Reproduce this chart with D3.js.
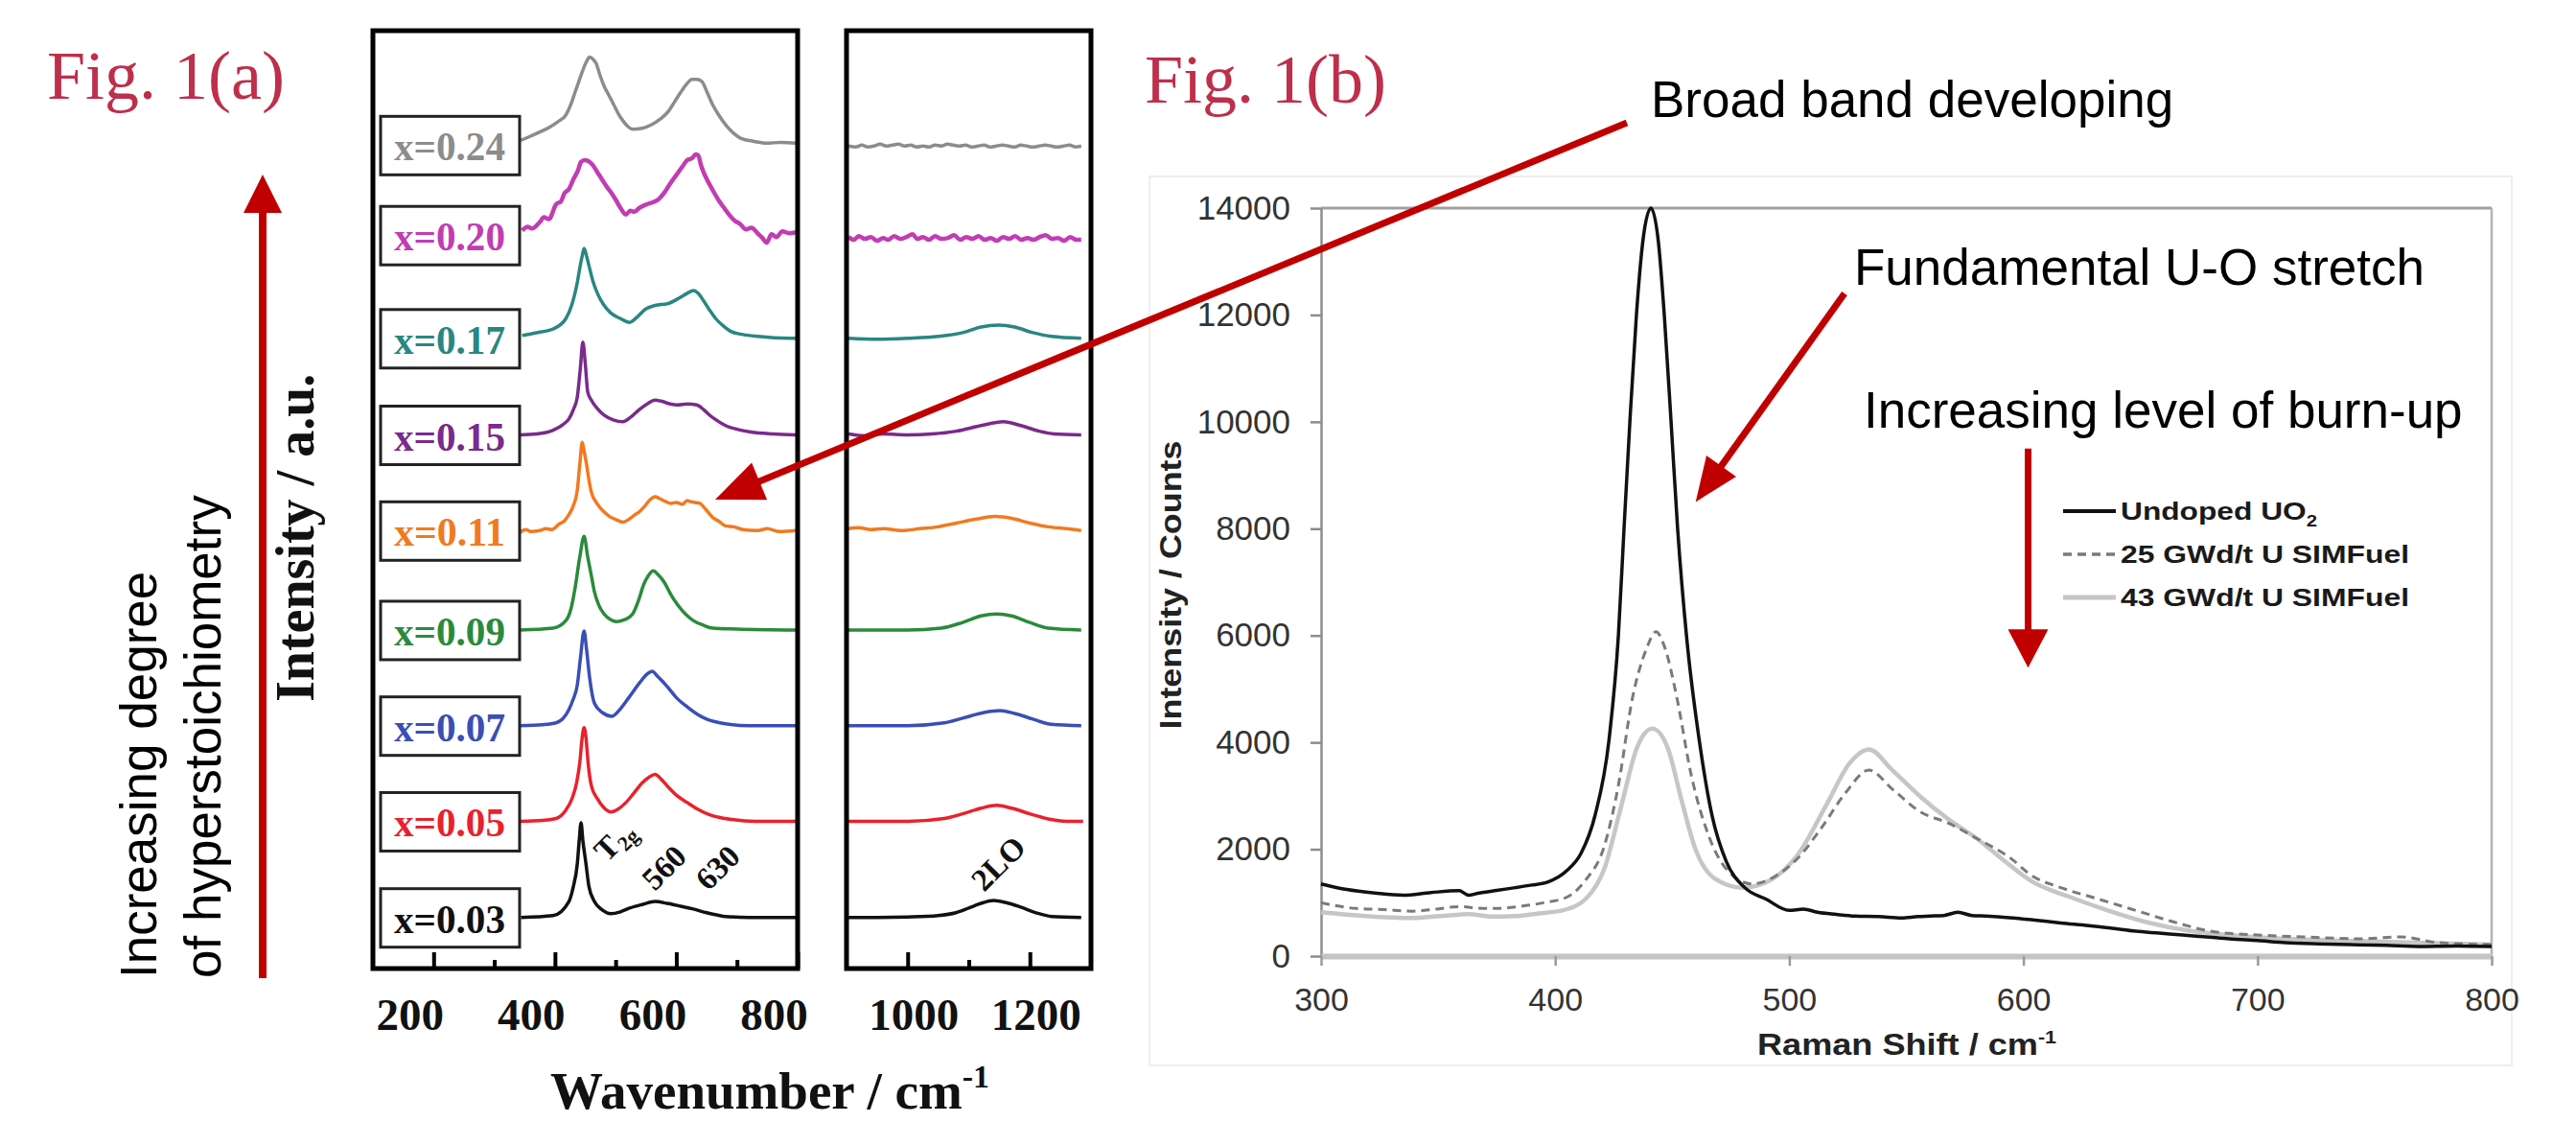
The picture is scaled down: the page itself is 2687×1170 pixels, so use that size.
<!DOCTYPE html>
<html>
<head>
<meta charset="utf-8">
<script src="https://cdn.jsdelivr.net/npm/d3@7"></script>
<style>
  body { margin: 0; background: #fff; }
  svg { display: block; }
</style>
</head>
<body>
<svg width="2687" height="1170"></svg>
<script>
const SERIF = '"Liberation Serif", "Times New Roman", serif'
const SANS = '"Liberation Sans", Arial, sans-serif'
const RED = '#c00000'
const TITLE_RED = '#be2f4b'

// ---- Fig 1(a): stacked Raman spectra, U4O9-type hyperstoichiometry series ----
const compositions = ['x=0.03', 'x=0.05', 'x=0.07', 'x=0.09', 'x=0.11', 'x=0.15', 'x=0.17', 'x=0.20', 'x=0.24']
const traceColors = ['#111111', '#e8222c', '#3a4fb5', '#2b8a3c', '#f07a22', '#7a2a8c', '#2a8682', '#c23cb2', '#8c8c8c']
// baseline of each trace in the stack (a.u.)
const stackOffsets = [5.45, 15.7, 25.9, 36.1, 46.7, 56.9, 67.2, 78.2, 87.8]

// [wavenumber, intensity above baseline] for 340-800 cm-1
const lowRange = [
  [[344,0],[397,0.2],[423,1.7],[430,3.2],[437,5.8],[440,8.2],[443,10.1],[446,8.2],[451,5.8],[456,3.3],[465,1.7],[478,0.8],[492,0.4],[508,0.6],[523,1.0],[545,1.4],[565,1.7],[585,1.5],[607,1.2],[628,0.9],[650,0.5],[668,0.25],[681,0.1],[720,0],[797,0]],
  [[343,0],[380,0.1],[402,0.3],[418,1.2],[428,2.4],[436,4.2],[441,6.3],[445,9],[448,10.0],[451,9],[455,6.0],[460,3.8],[470,2.4],[480,1.5],[492,1.0],[504,1.3],[517,2.0],[530,3.0],[544,4.1],[555,4.7],[565,5.0],[575,4.5],[586,3.7],[600,2.8],[618,2.0],[635,1.3],[655,0.7],[672,0.4],[691,0.2],[730,0],[797,0]],
  [[343,0],[380,0.1],[402,0.3],[423,1.7],[430,2.8],[437,4.4],[442,7.2],[448,10.1],[452,8.2],[457,5.2],[465,2.4],[478,1.4],[494,1.0],[508,1.8],[523,3.1],[540,4.6],[552,5.5],[560,5.8],[570,5.2],[586,4.1],[600,3.0],[618,2.0],[635,1.2],[650,0.7],[665,0.4],[681,0.2],[720,0],[797,0]],
  [[342,0],[397,0.2],[418,1.0],[427,2.4],[433,4.4],[441,7.8],[448,10.0],[454,7.8],[460,5.8],[465,4.1],[472,2.7],[481,1.7],[492,1.1],[502,0.9],[515,1.1],[528,1.7],[538,3.2],[546,4.8],[554,5.8],[562,6.3],[570,5.9],[580,5.1],[590,3.9],[602,2.7],[615,1.7],[628,1.0],[645,0.5],[660,0.2],[700,0.1],[797,0]],
  [[342,-0.2],[352,0.1],[360,-0.1],[375,0],[385,0.2],[395,0.1],[407,0.7],[415,1.0],[423,1.7],[430,2.6],[437,4.4],[441,7.1],[445,9.4],[448,8.5],[452,7.1],[456,5.4],[460,4.1],[468,3.0],[475,2.4],[481,2.0],[490,1.5],[500,1.2],[512,0.9],[522,1.2],[530,1.6],[539,2.0],[548,2.6],[557,3.3],[565,3.6],[573,3.4],[582,3.1],[591,2.9],[600,3.0],[610,2.8],[618,3.2],[623,3.1],[631,3.0],[639,2.9],[648,2.3],[660,1.4],[670,1.0],[681,0.5],[695,0.4],[710,0.1],[734,0],[750,0.2],[770,-0.1],[797,0]],
  [[342,0],[370,0.1],[397,0.5],[413,1.1],[423,1.7],[431,2.8],[437,4.1],[442,7.2],[446,9.9],[450,7.6],[454,4.6],[460,3.7],[470,2.8],[481,2.1],[496,1.6],[512,1.4],[525,1.9],[539,2.7],[552,3.3],[565,3.7],[575,3.6],[590,3.3],[602,3.2],[618,3.3],[634,3.2],[645,2.7],[655,2.1],[668,1.5],[681,1.0],[700,0.6],[723,0.3],[760,0.1],[797,0]],
  [[346,0.3],[370,0.6],[397,1.0],[418,2.1],[428,3.6],[433,4.8],[437,6.0],[441,7.5],[445,8.8],[448,9.6],[452,8.8],[457,7.5],[463,6.0],[470,4.8],[480,3.6],[492,2.7],[508,2.1],[523,1.7],[536,2.3],[549,3.1],[565,3.5],[586,3.7],[605,4.3],[618,4.8],[628,5.1],[636,4.8],[644,4.1],[655,3.0],[665,2.1],[678,1.3],[691,0.7],[710,0.4],[734,0.2],[786,0],[797,0]],
  [[346,0.5],[355,0.9],[362,0.7],[375,1.4],[382,1.9],[390,1.7],[402,3.3],[410,3.6],[416,4.5],[423,4.9],[430,5.9],[438,6.9],[443,7.8],[449,8.0],[455,7.9],[462,7.5],[470,6.7],[478,5.9],[485,5.2],[492,4.6],[500,3.8],[508,2.9],[517,2.2],[524,2.6],[531,2.5],[539,2.9],[548,3.2],[556,3.4],[565,3.6],[572,3.9],[580,4.5],[591,5.6],[600,6.4],[610,7.3],[618,8.0],[626,8.2],[632,8.6],[636,8.5],[641,7.4],[645,6.7],[650,6.0],[660,4.8],[671,3.6],[680,2.8],[688,2.1],[697,1.5],[705,1.2],[715,0.6],[724,0.8],[734,0.2],[742,-0.3],[749,-0.8],[757,0.1],[765,-0.2],[775,0.4],[786,0.2],[797,0.3]],
  [[343,0.5],[358,0.9],[375,1.4],[391,1.9],[405,2.5],[418,3.2],[426,4.3],[433,5.6],[440,6.9],[446,8.0],[452,8.9],[457,9.4],[462,9.2],[468,8.7],[474,7.5],[481,6.3],[489,5.3],[497,4.3],[504,3.4],[512,2.6],[520,2.0],[528,1.7],[544,1.8],[560,2.2],[574,2.8],[587,3.6],[597,4.6],[607,5.6],[617,6.5],[626,7.0],[634,7.0],[642,6.8],[651,5.6],[660,4.3],[670,3.2],[681,2.2],[694,1.3],[707,0.7],[728,0.4],[749,0.2],[772,0.3],[797,0.2]]
]

// [wavenumber, intensity above baseline] for 900-1300 cm-1 (2LO band)
const highRange = [
  [[903,0],[950,0],[1000,0.05],[1050,0.2],[1079,0.5],[1100,1.0],[1120,1.5],[1141,1.8],[1160,1.6],[1185,1.1],[1210,0.5],[1236,0.1],[1284,0]],
  [[903,0],[1000,0],[1060,0.3],[1090,0.8],[1120,1.4],[1146,1.7],[1170,1.4],[1200,0.8],[1230,0.25],[1260,0],[1287,0]],
  [[903,0],[1000,0],[1060,0.3],[1090,0.8],[1125,1.4],[1151,1.6],[1175,1.3],[1205,0.7],[1235,0.15],[1284,0]],
  [[903,0],[1000,0],[1055,0.2],[1090,0.8],[1120,1.5],[1146,1.7],[1170,1.5],[1200,0.8],[1230,0.2],[1284,0]],
  [[903,0.2],[920,0.3],[940,0.1],[960,0.2],[990,0],[1020,0.2],[1050,0.4],[1080,0.8],[1110,1.2],[1143,1.5],[1170,1.3],[1200,0.8],[1230,0.4],[1260,0.2],[1284,0]],
  [[903,0.1],[930,-0.1],[960,0.1],[1000,0],[1040,0.1],[1080,0.4],[1120,1.0],[1157,1.4],[1185,1.0],[1215,0.4],[1240,0.1],[1284,0]],
  [[903,0],[950,-0.1],[1000,0],[1050,0.2],[1090,0.6],[1120,1.2],[1149,1.4],[1175,1.2],[1205,0.6],[1235,0.2],[1284,0]],
  [[903,-0.2],[912,-0.5],[920,-0.1],[930,-0.4],[940,-0.2],[950,-0.6],[960,-0.3],[968,-0.5],[978,-0.1],[988,-0.4],[998,-0.2],[1008,0.1],[1016,-0.4],[1025,-0.2],[1035,-0.5],[1045,-0.1],[1055,-0.4],[1066,-0.3],[1076,0.0],[1086,-0.5],[1096,-0.2],[1106,-0.4],[1116,-0.1],[1126,-0.5],[1136,-0.3],[1146,-0.6],[1156,-0.2],[1166,-0.4],[1176,-0.1],[1186,-0.5],[1196,-0.3],[1206,-0.5],[1216,-0.2],[1226,0.0],[1236,-0.4],[1246,-0.3],[1256,-0.6],[1266,-0.2],[1276,-0.5],[1284,-0.5]],
  [[903,-0.1],[915,-0.2],[925,0.0],[935,-0.2],[945,-0.1],[955,0.1],[965,-0.1],[975,0.0],[985,0.1],[995,-0.1],[1005,0.0],[1015,-0.2],[1025,-0.1],[1035,-0.2],[1045,0.0],[1055,-0.1],[1065,0.1],[1075,0.0],[1085,-0.1],[1095,0.0],[1105,-0.2],[1115,-0.1],[1125,0.0],[1135,-0.2],[1145,-0.1],[1155,0.0],[1165,-0.1],[1175,-0.2],[1185,0.0],[1195,-0.1],[1205,-0.2],[1215,-0.1],[1225,0.0],[1235,-0.1],[1245,-0.2],[1255,-0.1],[1265,0.0],[1275,-0.2],[1284,-0.1]]
]

const lowMajorTicks = [200, 400, 600, 800]
const lowMinorTicks = [300, 500, 700]
const highMajorTicks = [1000, 1200]
const highMinorTicks = [1100]
const peakLabels = [['T', '2g'], ['560', ''], ['630', '']]

// ---- Fig 1(b): SIMFuel Raman spectra ----
const undopedUO2 = [[300,1352],[311,1246],[323,1180],[335,1140],[347,1190],[359,1224],[363,1140],[367,1175],[375,1230],[383,1281],[390,1330],[397,1388],[405,1600],[411,1920],[417,2630],[423,4050],[427,6000],[429.4,8000],[431.9,10000],[434.7,12000],[437.5,13400],[440.9,14000],[444,13400],[446.6,12000],[449.5,10000],[452.3,8000],[456.3,5900],[461.5,4050],[467,2630],[473,1778],[481,1281],[490,1068],[500,855],[506,880],[512,820],[520,780],[528,749],[538,740],[548,713],[555,740],[560,749],[566,760],[572,820],[578,760],[584,749],[594,720],[604,678],[616,620],[628,571],[638,520],[648,465],[658,430],[668,394],[678,360],[688,323],[700,290],[712,252],[726,230],[740,216],[755,200],[769,181],[785,190],[800,181]]
const simfuel25 = [[300,998],[315,891],[327,870],[339,841],[349,880],[359,926],[367,900],[375,891],[385,930],[395,998],[405,1104],[413,1423],[421,2062],[427,3197],[433,4830],[439,5752],[443,6070],[447,5752],[452,4830],[458,3410],[466,2204],[473,1636],[484,1352],[494,1494],[504,1849],[514,2417],[524,3055],[534,3481],[544,3126],[556,2700],[568,2488],[580,2204],[594,1849],[604,1494],[616,1281],[632,1068],[648,855],[664,642],[680,465],[700,394],[720,359],[744,323],[761,359],[777,252],[800,216]]
const simfuel43 = [[300,820],[319,749],[339,713],[351,750],[363,784],[373,740],[383,749],[393,800],[403,855],[413,1068],[421,1636],[428,2772],[435,3907],[441.5,4260],[448,3907],[454,2914],[460,1991],[468,1458],[480,1281],[492,1423],[504,1920],[516,2843],[526,3623],[534,3868],[544,3481],[556,2985],[568,2559],[580,2204],[592,1778],[604,1388],[620,1104],[636,855],[652,642],[672,465],[688,394],[712,323],[740,288],[769,252],[800,216]]
const seriesB = [simfuel43, simfuel25, undopedUO2]
const seriesBStyles = [
  { stroke: '#c6c6c6', width: 4.5, dash: null },
  { stroke: '#7a7a7a', width: 3, dash: '9,6' },
  { stroke: '#111111', width: 3.5, dash: null }
]
const legendLabels = ['Undoped UO', '25 GWd/t U  SIMFuel', '43 GWd/t U  SIMFuel']
const shiftTicks = [300, 400, 500, 600, 700, 800]
const countTicks = [0, 2000, 4000, 6000, 8000, 10000, 12000, 14000]

const svg = d3.select('svg')

// ================= Fig 1(a) =================
const xLow = d3.scaleLinear().domain([100, 800]).range([389, 832])
const xHigh = d3.scaleLinear().domain([900, 1300]).range([883, 1138])
const yA = d3.scaleLinear().domain([0, 100]).range([1010, 32])

const gA = svg.append('g').attr('class', 'fig-a')

function drawTraces(g, x, data) {
  g.selectAll('path.trace')
    .data(data)
    .enter()
    .append('path')
    .attr('class', 'trace')
    .attr('fill', 'none')
    .attr('stroke', (d, i) => traceColors[i])
    .attr('stroke-width', (d, i) => i === 7 ? 4.5 : 3.5)
    .attr('stroke-linejoin', 'round')
    .attr('d', (d, i) => d3.line()
      .x(p => x(p[0]))
      .y(p => yA(stackOffsets[i] + p[1]))
      .curve(d3.curveMonotoneX)(d))
}
drawTraces(gA.append('g'), xLow, lowRange)
drawTraces(gA.append('g'), xHigh, highRange)

function ticks(x, major, minor, labelShift) {
  const ax = gA.append('g').attr('transform', 'translate(0,1010)')
  ax.append('g')
    .call(d3.axisBottom(x).tickValues(major).tickSizeInner(-17).tickSizeOuter(0).tickPadding(0).tickFormat(d3.format('d')))
    .call(a => a.select('.domain').remove())
    .call(a => a.selectAll('line').attr('stroke', '#000').attr('stroke-width', 4))
    .call(a => a.selectAll('text')
      .attr('x', labelShift).attr('y', 64).attr('dy', null)
      .attr('fill', '#111')
      .style('font-family', SERIF).style('font-size', '47px').style('font-weight', 'bold'))
  ax.append('g')
    .call(d3.axisBottom(x).tickValues(minor).tickSizeInner(-9).tickSizeOuter(0).tickFormat(''))
    .call(a => a.select('.domain').remove())
    .call(a => a.selectAll('line').attr('stroke', '#000').attr('stroke-width', 4))
}
ticks(xLow, lowMajorTicks, lowMinorTicks, -25)
ticks(xHigh, highMajorTicks, highMinorTicks, 6)

// frames
const frames = [xLow, xHigh]
frames.forEach(x => {
  gA.append('rect')
    .attr('x', x.range()[0]).attr('y', yA(100))
    .attr('width', x.range()[1] - x.range()[0])
    .attr('height', yA(0) - yA(100))
    .attr('fill', 'none').attr('stroke', '#000').attr('stroke-width', 5)
})

// composition boxes
const labelG = gA.selectAll('g.comp')
  .data(compositions)
  .enter()
  .append('g')
  .attr('class', 'comp')
  .attr('transform', (d, i) => `translate(397,${yA(stackOffsets[i])})`)
labelG.append('rect')
  .attr('x', 0).attr('y', -30).attr('width', 145).attr('height', 61)
  .attr('fill', '#fff').attr('stroke', '#222').attr('stroke-width', 3)
labelG.append('text')
  .attr('fill', (d, i) => traceColors[i])
  .attr('font-family', SERIF).attr('font-size', 42).attr('font-weight', 'bold')
  .text(d => d)
  .each(function() {
    // fit each label to the box width used in the figure
    const w = this.getBBox().width || 116
    const s = 116 / w
    d3.select(this).attr('transform', `translate(14,16) scale(${s})`)
  })

// peak labels on the x=0.03 trace
const peakG = gA.append('g')
  .style('font-family', SERIF).style('font-weight', 'bold').style('font-size', '33px').attr('fill', '#111')
const peakPos = [[633, 900], [683, 930], [739, 930]]
peakLabels.forEach((p, i) => {
  const t = peakG.append('text')
    .attr('transform', `translate(${peakPos[i][0]},${peakPos[i][1]}) rotate(-45)`)
    .text(p[0])
  if (p[1]) t.append('tspan').attr('font-size', 22).attr('dy', 6).text(p[1])
})
peakG.append('text')
  .attr('transform', `translate(${xHigh(1125)},931) rotate(-45)`)
  .text('2LO')

// axis titles (a)
gA.append('text')
  .attr('transform', 'translate(327,732) rotate(-90)')
  .style('font-family', SERIF).style('font-size', '56px').style('font-weight', 'bold')
  .attr('fill', '#111')
  .text('Intensity / a.u.')
const wn = gA.append('text')
  .attr('x', 574).attr('y', 1156)
  .style('font-family', SERIF).style('font-size', '55px').style('font-weight', 'bold')
  .attr('fill', '#111')
wn.append('tspan').text('Wavenumber / cm')
wn.append('tspan').attr('font-size', 34).attr('dy', -22).text('-1')

// ================= Fig 1(b) =================
const xB = d3.scaleLinear().domain([300, 800]).range([1378, 2599])
const yB = d3.scaleLinear().domain([0, 14000]).range([997, 217])
const gB = svg.append('g').attr('class', 'fig-b')

gB.append('rect')
  .attr('x', 1199).attr('y', 184).attr('width', 1421).attr('height', 927)
  .attr('fill', 'none').attr('stroke', '#eeeeee').attr('stroke-width', 2)

gB.append('line')
  .attr('x1', xB(300)).attr('x2', xB(800)).attr('y1', yB(14000)).attr('y2', yB(14000))
  .attr('stroke', '#a0a0a0').attr('stroke-width', 3)
gB.append('line')
  .attr('x1', xB(800)).attr('x2', xB(800)).attr('y1', yB(14000)).attr('y2', yB(0))
  .attr('stroke', '#b4b4b4').attr('stroke-width', 2.5)

gB.append('g')
  .attr('transform', `translate(${xB(300)},0)`)
  .call(d3.axisLeft(yB).tickValues(countTicks).tickSize(11).tickPadding(21).tickSizeOuter(0).tickFormat(d3.format('d')))
  .call(a => a.select('.domain').attr('stroke', '#8c8c8c').attr('stroke-width', 2.5))
  .call(a => a.selectAll('line').attr('stroke', '#8c8c8c').attr('stroke-width', 2.5))
  .call(a => a.selectAll('text').attr('fill', '#333')
    .style('font-family', SANS).style('font-size', '35px'))

gB.append('g')
  .attr('transform', `translate(0,${yB(0)})`)
  .call(d3.axisBottom(xB).tickValues(shiftTicks).tickSize(10).tickSizeOuter(0).tickFormat(d3.format('d')))
  .call(a => a.select('.domain').attr('stroke', '#c4c4c4').attr('stroke-width', 6))
  .call(a => a.selectAll('line').attr('stroke', '#9a9a9a').attr('stroke-width', 2.5))
  .call(a => a.selectAll('text').attr('y', 57).attr('dy', null).attr('fill', '#333')
    .style('font-family', SANS).style('font-size', '34px'))

const lineB = d3.line()
  .x(d => xB(d[0]))
  .y(d => yB(d[1]))
  .curve(d3.curveMonotoneX)
gB.selectAll('path.spec')
  .data(seriesB)
  .enter()
  .append('path')
  .attr('class', 'spec')
  .attr('fill', 'none')
  .attr('stroke', (d, i) => seriesBStyles[i].stroke)
  .attr('stroke-width', (d, i) => seriesBStyles[i].width)
  .attr('stroke-dasharray', (d, i) => seriesBStyles[i].dash)
  .attr('stroke-linejoin', 'round')
  .attr('d', lineB)

gB.append('text')
  .attr('transform', 'translate(1232,610) rotate(-90)')
  .attr('text-anchor', 'middle')
  .attr('textLength', 301).attr('lengthAdjust', 'spacingAndGlyphs')
  .attr('fill', '#222')
  .style('font-family', SANS).style('font-size', '32px').style('font-weight', 'bold')
  .text('Intensity / Counts')
const rs = gB.append('text')
  .attr('x', 1833).attr('y', 1100)
  .attr('textLength', 312).attr('lengthAdjust', 'spacingAndGlyphs')
  .attr('fill', '#222')
  .style('font-family', SANS).style('font-size', '32px').style('font-weight', 'bold')
rs.append('tspan').text('Raman Shift / cm')
rs.append('tspan').attr('font-size', 19).attr('dy', -12).text('-1')

// legend (order: undoped, 25, 43)
const legendStyles = [seriesBStyles[2], seriesBStyles[1], seriesBStyles[0]]
const legend = gB.append('g')
  .selectAll('g')
  .data(legendLabels)
  .enter()
  .append('g')
  .attr('transform', (d, i) => `translate(2152,${533 + i * 45})`)
legend.append('line')
  .attr('x1', 0).attr('x2', 55)
  .attr('stroke', (d, i) => legendStyles[i].stroke)
  .attr('stroke-width', (d, i) => legendStyles[i].width + 0.5)
  .attr('stroke-dasharray', (d, i) => legendStyles[i].dash)
const legendText = legend.append('text')
  .attr('x', 60).attr('y', 9)
  .attr('textLength', (d, i) => i === 0 ? 205 : 301)
  .attr('lengthAdjust', 'spacingAndGlyphs')
  .attr('fill', '#1a1a1a')
  .style('font-family', SANS).style('font-size', '25px').style('font-weight', 'bold')
legendText.append('tspan').text(d => d)
legendText.filter((d, i) => i === 0)
  .append('tspan').attr('font-size', 16).attr('dy', 7).text('2')

// ================= titles & annotations =================
const annot = svg.append('g').attr('class', 'annotations')

annot.append('text').attr('x', 49).attr('y', 103)
  .attr('fill', TITLE_RED)
  .style('font-family', SERIF).style('font-size', '72px')
  .text('Fig. 1(a)')
annot.append('text').attr('x', 1194).attr('y', 107)
  .attr('fill', TITLE_RED)
  .style('font-family', SERIF).style('font-size', '72px')
  .text('Fig. 1(b)')

const notes = [
  ['Broad band developing', 1722, 122],
  ['Fundamental U-O stretch', 1934, 297],
  ['Increasing level of burn-up', 1944, 446]
]
annot.selectAll('text.note')
  .data(notes)
  .enter()
  .append('text')
  .attr('class', 'note')
  .attr('x', d => d[1]).attr('y', d => d[2])
  .attr('fill', '#000')
  .style('font-family', SANS).style('font-size', '53px')
  .text(d => d[0])

const side = annot.append('g')
  .style('font-family', SANS).style('font-size', '53px').attr('fill', '#000')
side.append('text').attr('transform', 'translate(163,1020) rotate(-90)').text('Increasing degree')
side.append('text').attr('transform', 'translate(230,1020) rotate(-90)').text('of hyperstoichiometry')

function arrow(x1, y1, x2, y2, len, half, width) {
  const a = Math.atan2(y2 - y1, x2 - x1)
  const bx = x2 - len * Math.cos(a)
  const by = y2 - len * Math.sin(a)
  annot.append('line')
    .attr('x1', x1).attr('y1', y1)
    .attr('x2', bx + 2 * Math.cos(a)).attr('y2', by + 2 * Math.sin(a))
    .attr('stroke', RED).attr('stroke-width', width)
  annot.append('path')
    .attr('d', `M${x2},${y2}L${bx - half * Math.sin(a)},${by + half * Math.cos(a)}L${bx + half * Math.sin(a)},${by - half * Math.cos(a)}Z`)
    .attr('fill', RED)
}
arrow(274, 1020, 274, 182, 40, 20, 8)
arrow(1697, 128, xLow(664), yA(50), 50, 21, 7)
arrow(1924, 306, xB(460), yB(8500), 46, 19, 7)
arrow(xB(602), yB(9500), xB(602), yB(5400), 40, 21, 7)
</script>
</body>
</html>
